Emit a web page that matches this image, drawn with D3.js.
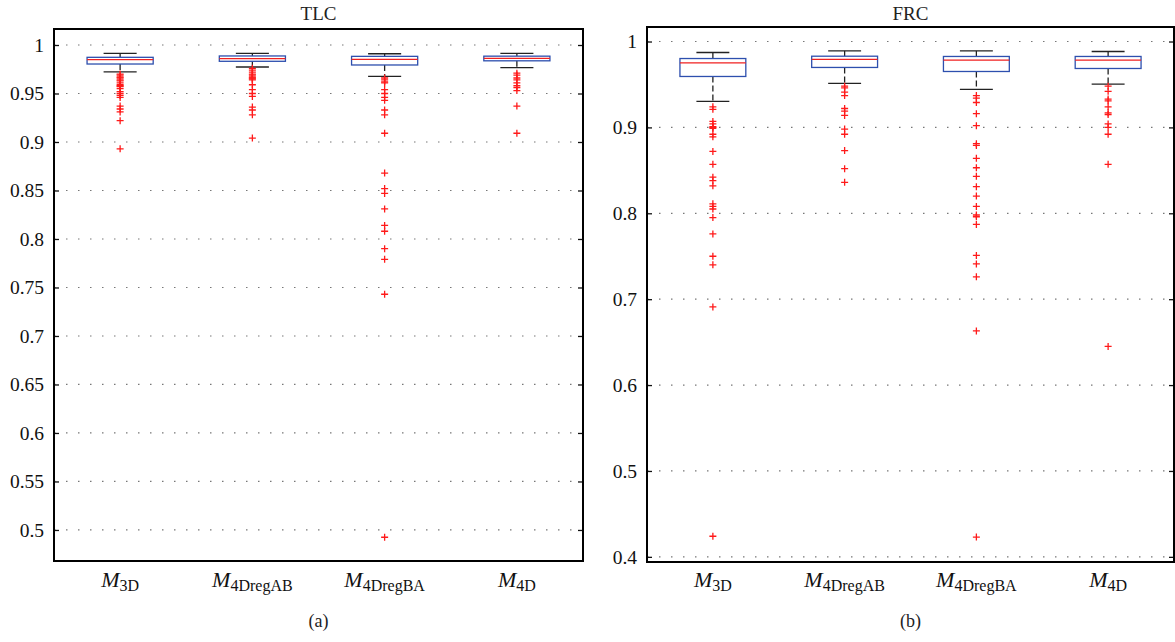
<!DOCTYPE html>
<html>
<head>
<meta charset="utf-8">
<script src="https://cdn.jsdelivr.net/npm/d3@7"></script>
<style>
  body { margin: 0; background: #fff; }
  svg { display: block; font-family: "Liberation Serif", "DejaVu Serif", serif; }
</style>
</head>
<body>
<svg id="chart" width="1175" height="642"></svg>
<script>
// categories (M + subscript)
const categories = ["M3D", "M4DregAB", "M4DregBA", "M4D"];
const catSubs = ["3D", "4DregAB", "4DregBA", "4D"];

// TLC panel
const tlcTicks = [0.5, 0.55, 0.6, 0.65, 0.7, 0.75, 0.8, 0.85, 0.9, 0.95, 1];
const tlcTickLabels = ["0.5", "0.55", "0.6", "0.65", "0.7", "0.75", "0.8", "0.85", "0.9", "0.95", "1"];
const tlcUpper  = [0.9914, 0.9914, 0.9910, 0.9914];
const tlcQ3     = [0.9873, 0.9887, 0.9883, 0.9885];
const tlcMedian = [0.9849, 0.9859, 0.9852, 0.9863];
const tlcQ1     = [0.9804, 0.9832, 0.9794, 0.9837];
const tlcLower  = [0.9722, 0.9773, 0.9677, 0.9766];
const tlcOut3D  = [0.970, 0.969, 0.967, 0.966, 0.964, 0.963, 0.961, 0.959, 0.958, 0.957, 0.955, 0.952, 0.950, 0.948, 0.946, 0.937, 0.934, 0.931, 0.922, 0.893];
const tlcOutAB  = [0.976, 0.974, 0.972, 0.970, 0.969, 0.967, 0.966, 0.965, 0.964, 0.959, 0.954, 0.950, 0.947, 0.936, 0.933, 0.928, 0.904];
const tlcOutBA  = [0.966, 0.964, 0.962, 0.961, 0.954, 0.950, 0.946, 0.943, 0.933, 0.928, 0.909, 0.868, 0.852, 0.847, 0.831, 0.814, 0.808, 0.790, 0.779, 0.743, 0.4925];
const tlcOut4D  = [0.971, 0.969, 0.966, 0.964, 0.961, 0.958, 0.956, 0.953, 0.937, 0.909];

// FRC panel
const frcTicks = [0.4, 0.5, 0.6, 0.7, 0.8, 0.9, 1];
const frcTickLabels = ["0.4", "0.5", "0.6", "0.7", "0.8", "0.9", "1"];
const frcUpper  = [0.9872, 0.9891, 0.9891, 0.9884];
const frcQ3     = [0.9802, 0.9829, 0.9826, 0.9826];
const frcMedian = [0.9752, 0.9791, 0.9783, 0.9783];
const frcQ1     = [0.9593, 0.9698, 0.9651, 0.9686];
const frcLower  = [0.9302, 0.9512, 0.9442, 0.9504];
const frcOut3D  = [0.924, 0.921, 0.907, 0.904, 0.901, 0.900, 0.899, 0.892, 0.889, 0.872, 0.857, 0.842, 0.838, 0.832, 0.811, 0.808, 0.805, 0.795, 0.776, 0.750, 0.740, 0.691, 0.424];
const frcOutAB  = [0.948, 0.946, 0.941, 0.937, 0.922, 0.919, 0.914, 0.898, 0.892, 0.873, 0.852, 0.836];
const frcOutBA  = [0.937, 0.934, 0.929, 0.916, 0.902, 0.881, 0.879, 0.864, 0.853, 0.843, 0.831, 0.820, 0.808, 0.798, 0.796, 0.787, 0.751, 0.741, 0.726, 0.663, 0.423];
const frcOut4D  = [0.948, 0.942, 0.933, 0.931, 0.924, 0.917, 0.915, 0.904, 0.900, 0.892, 0.857, 0.645];

const svg = d3.select("#chart");

const panels = [
  { title: "TLC", label: "(a)", left: 54, right: 583, top: 29, bottom: 561, domain: [0.468, 1.0165],
    ticks: tlcTicks, tickLabels: tlcTickLabels,
    upper: tlcUpper, q3: tlcQ3, median: tlcMedian, q1: tlcQ1, lower: tlcLower,
    outliers: [tlcOut3D, tlcOutAB, tlcOutBA, tlcOut4D] },
  { title: "FRC", label: "(b)", left: 647, right: 1174, top: 27, bottom: 562, domain: [0.394, 1.0169],
    ticks: frcTicks, tickLabels: frcTickLabels,
    upper: frcUpper, q3: frcQ3, median: frcMedian, q1: frcQ1, lower: frcLower,
    outliers: [frcOut3D, frcOutAB, frcOutBA, frcOut4D] }
];

panels.forEach(p => {
  const x = d3.scaleBand().domain(categories).range([p.left, p.right]);
  const y = d3.scaleLinear().domain(p.domain).range([p.bottom, p.top]);
  const bw = x.bandwidth();
  const g = svg.append("g");

  // dotted grid
  g.append("g").selectAll("line")
    .data(p.ticks)
    .join("line")
      .attr("x1", p.left).attr("x2", p.right)
      .attr("y1", d => y(d)).attr("y2", d => y(d))
      .attr("stroke", "#777")
      .attr("stroke-width", 1.2)
      .attr("stroke-dasharray", "1.5,10.5");

  // boxes
  const stats = categories.map((c, i) => ({
    cat: c, upper: p.upper[i], q3: p.q3[i], median: p.median[i], q1: p.q1[i], lower: p.lower[i]
  }));
  const box = g.append("g").selectAll("g")
    .data(stats)
    .join("g")
      .attr("transform", d => "translate(" + (x(d.cat) + bw / 2) + ",0)");

  // whiskers (dashed)
  box.append("line")
      .attr("y1", d => y(d.upper)).attr("y2", d => y(d.q3))
      .attr("stroke", "#222").attr("stroke-width", 1.3).attr("stroke-dasharray", "6,3");
  box.append("line")
      .attr("y1", d => y(d.q1)).attr("y2", d => y(d.lower))
      .attr("stroke", "#222").attr("stroke-width", 1.3).attr("stroke-dasharray", "6,3");
  // caps
  box.append("line")
      .attr("x1", -bw / 8).attr("x2", bw / 8)
      .attr("y1", d => y(d.upper)).attr("y2", d => y(d.upper))
      .attr("stroke", "#222").attr("stroke-width", 1.3);
  box.append("line")
      .attr("x1", -bw / 8).attr("x2", bw / 8)
      .attr("y1", d => y(d.lower)).attr("y2", d => y(d.lower))
      .attr("stroke", "#222").attr("stroke-width", 1.3);
  box.append("rect")
      .attr("x", -bw / 4).attr("width", bw / 2)
      .attr("y", d => y(d.q3))
      .attr("height", d => y(d.q1) - y(d.q3))
      .attr("fill", "#fff")
      .attr("stroke", "#2d4fae").attr("stroke-width", 1.3);
  box.append("line")
      .attr("x1", -bw / 4).attr("x2", bw / 4)
      .attr("y1", d => y(d.median)).attr("y2", d => y(d.median))
      .attr("stroke", "#f02020").attr("stroke-width", 1.3);

  // outliers as "+"
  const pts = [];
  p.outliers.forEach((arr, i) => arr.forEach(v => pts.push({ cat: categories[i], v: v })));
  g.append("g").selectAll("path")
    .data(pts)
    .join("path")
      .attr("d", d => {
        const cx = x(d.cat) + bw / 2, cy = y(d.v);
        return "M" + (cx - 3.5) + "," + cy + "H" + (cx + 3.5) + "M" + cx + "," + (cy - 3.5) + "V" + (cy + 3.5);
      })
      .attr("stroke", "#ff1a1a").attr("stroke-width", 1.3).attr("fill", "none");

  // axes with inward ticks
  const leftAxis = g.append("g")
      .attr("transform", "translate(" + p.left + ",0)")
      .call(d3.axisLeft(y).tickValues(p.ticks).tickSize(-5).tickPadding(10)
        .tickFormat((d, i) => p.tickLabels[i]));
  leftAxis.select(".domain").remove();
  leftAxis.attr("font-family", null);
  leftAxis.selectAll("text")
      .attr("font-family", "Liberation Serif, serif")
      .attr("font-size", 19.5)
      .attr("fill", "#111");
  leftAxis.selectAll("line").attr("stroke", "#111").attr("stroke-width", 1.3);

  const rightAxis = g.append("g")
      .attr("transform", "translate(" + p.right + ",0)")
      .call(d3.axisRight(y).tickValues(p.ticks).tickSize(-5).tickFormat(""));
  rightAxis.select(".domain").remove();
  rightAxis.selectAll("line").attr("stroke", "#111").attr("stroke-width", 1.3);

  // frame
  g.append("rect")
      .attr("x", p.left).attr("y", p.top)
      .attr("width", p.right - p.left).attr("height", p.bottom - p.top)
      .attr("fill", "none").attr("stroke", "#000").attr("stroke-width", 2);

  // category labels
  const lab = g.append("g").selectAll("text")
    .data(categories)
    .join("text")
      .attr("x", d => x(d) + bw / 2)
      .attr("y", 587)
      .attr("text-anchor", "middle")
      .attr("fill", "#111");
  lab.append("tspan")
      .attr("font-style", "italic")
      .attr("font-size", 22)
      .text("M");
  lab.append("tspan")
      .attr("font-size", 16)
      .attr("dy", 4)
      .text((d, i) => catSubs[i]);

  // title and panel label
  g.append("text")
      .attr("x", (p.left + p.right) / 2)
      .attr("y", 20)
      .attr("text-anchor", "middle")
      .attr("font-size", 19)
      .attr("fill", "#222")
      .text(p.title);
  g.append("text")
      .attr("x", (p.left + p.right) / 2)
      .attr("y", 627)
      .attr("text-anchor", "middle")
      .attr("font-size", 18)
      .attr("fill", "#222")
      .text(p.label);
});
</script>
</body>
</html>
